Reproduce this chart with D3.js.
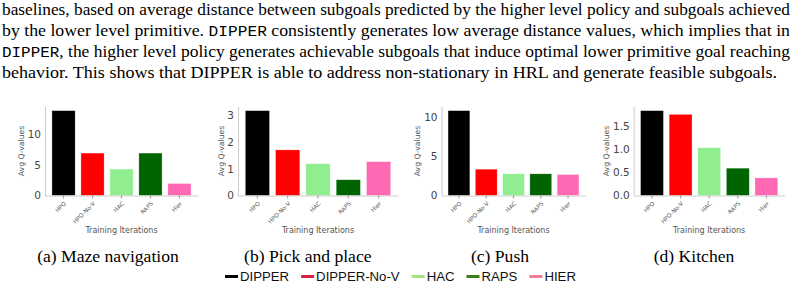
<!DOCTYPE html>
<html><head><meta charset="utf-8">
<script src="https://cdn.jsdelivr.net/npm/d3@7"></script>
<style>body{margin:0;background:#fff;} svg{display:block;}</style>
</head><body>
<svg id="c" width="804" height="288"></svg>
<script>
// ---------- data ----------
const methods = ["HPO", "HPO-No-V", "HAC", "RAPS", "Hier"];
const legendLabels = ["DIPPER", "DIPPER-No-V", "HAC", "RAPS", "HIER"];
const barColors = ["#000000", "#ff0000", "#90ee90", "#006400", "#ff69b4"];
const legendColors = ["#000000", "#dc1e46", "#a6e27c", "#3b7d12", "#f27d98"];

const mazeValues    = [13.8, 6.9, 4.3, 6.9, 1.95];
const pickValues    = [3.18, 1.71, 1.19, 0.59, 1.27];
const pushValues    = [10.8, 3.35, 2.76, 2.76, 2.67];
const kitchenValues = [1.83, 1.75, 1.03, 0.59, 0.38];

const mazeTicks    = [0, 5, 10];
const pickTicks    = [0, 1, 2, 3];
const pushTicks    = [0, 5, 10];
const kitchenTicks = [0, 0.5, 1.0, 1.5];

const captions = ["(a) Maze navigation", "(b) Pick and place", "(c) Push", "(d) Kitchen"];
const yLabel = "Avg Q-values";
const xLabel = "Training Iterations";

const paragraph = [
  [["baselines, based on average distance between subgoals predicted by the higher level policy and subgoals achieved", 0]],
  [["by the lower level primitive. ", 0], ["DIPPER", 1], [" consistently generates low average distance values, which implies that in", 0]],
  [["DIPPER", 1], [", the higher level policy generates achievable subgoals that induce optimal lower primitive goal reaching", 0]],
  [["behavior. This shows that DIPPER is able to address non-stationary in HRL and generate feasible subgoals.", 0]]
];

// ---------- layout ----------
const svg = d3.select("#c");
const serif = "'Liberation Serif','Times New Roman',Times,serif";
const mono = "'Liberation Mono','DejaVu Sans Mono',monospace";
const sans = "'DejaVu Sans',sans-serif";

const lineWidths = [788, 788, 788, 775];
paragraph.forEach((segs, i) => {
  const t = svg.append("text")
    .attr("x", 2).attr("y", 15 + i * 21)
    .attr("font-family", serif).attr("font-size", 17).attr("fill", "#000");
  segs.forEach(s => {
    const ts = t.append("tspan").text(s[0]);
    if (s[1]) ts.attr("font-family", mono).attr("font-size", 15.5);
  });
  t.attr("textLength", lineWidths[i]).attr("lengthAdjust", "spacingAndGlyphs");
});

const panels = [
  { values: mazeValues, ticks: mazeTicks, fmt: d3.format("d"), left: 45, width: 153 },
  { values: pickValues, ticks: pickTicks, fmt: d3.format("d"), left: 238, width: 160 },
  { values: pushValues, ticks: pushTicks, fmt: d3.format("d"), left: 441.5, width: 144 },
  { values: kitchenValues, ticks: kitchenTicks, fmt: d3.format(".1f"), left: 633.7, width: 151 }
];
const plotTop = 106.4, plotBottom = 195.5;

panels.forEach((p, pi) => {
  const g = svg.append("g");
  const x = d3.scaleBand().domain(methods).range([p.left, p.left + p.width])
    .paddingInner(0.2).paddingOuter(0.24);
  const y = d3.scaleLinear().domain([0, d3.max(p.values) * 1.05]).range([plotBottom, plotTop]);

  g.selectAll("rect").data(p.values).join("rect")
    .attr("x", (d, i) => x(methods[i]))
    .attr("y", d => y(d))
    .attr("width", x.bandwidth())
    .attr("height", d => plotBottom - y(d))
    .attr("fill", (d, i) => barColors[i])
    .attr("stroke", "#ffffff").attr("stroke-width", 0.5).attr("stroke-opacity", 0.6);

  const ya = g.append("g").attr("transform", `translate(${p.left},0)`)
    .call(d3.axisLeft(y).tickValues(p.ticks).tickFormat(p.fmt).tickSize(0).tickSizeOuter(0).tickPadding(4));
  ya.select(".domain").attr("stroke", "#cccccc");
  ya.selectAll("text").attr("font-family", sans).attr("font-size", 10.5).attr("fill", "#444");

  const xa = g.append("g").attr("transform", `translate(0,${plotBottom})`)
    .call(d3.axisBottom(x).tickSize(3).tickSizeOuter(0));
  xa.select(".domain").attr("stroke", "#cccccc");
  xa.selectAll(".tick line").attr("stroke", "#999");
  xa.selectAll("text")
    .attr("x", 0).attr("y", 0).attr("dy", 0)
    .attr("text-anchor", "end")
    .attr("transform", "translate(3,8.5) rotate(-45)")
    .attr("font-family", sans).attr("font-size", 5.8).attr("fill", "#555");

  // y label placed left of tick labels
  const tb = ya.node().getBBox();
  const tickLeft = p.left + tb.x;
  const ylx = tickLeft - 3.7;
  const ymid = (plotTop + plotBottom) / 2;
  g.append("text")
    .attr("transform", `translate(${ylx},${ymid}) rotate(-90)`)
    .attr("text-anchor", "middle")
    .attr("font-family", sans).attr("font-size", 7.7).attr("fill", "#555")
    .text(yLabel);

  g.append("text")
    .attr("x", p.left + p.width / 2).attr("y", 233)
    .attr("text-anchor", "middle")
    .attr("font-family", sans).attr("font-size", 8).attr("fill", "#555")
    .text(xLabel);

  const capCenter = (ylx - 6 + p.left + p.width) / 2;
  svg.append("text")
    .attr("x", capCenter).attr("y", 262)
    .attr("text-anchor", "middle")
    .attr("font-family", serif).attr("font-size", 17.6).attr("fill", "#000")
    .text(captions[pi]);
});

// legend
const lg = svg.append("g");
let cx = 225;
legendLabels.forEach((lab, i) => {
  lg.append("line").attr("x1", cx).attr("x2", cx + 13)
    .attr("y1", 276.5).attr("y2", 276.5)
    .attr("stroke", legendColors[i]).attr("stroke-width", 3);
  const t = lg.append("text").attr("x", cx + 15).attr("y", 281.2)
    .attr("font-family", "'Liberation Sans',Arial,sans-serif").attr("font-size", 13.2)
    .attr("fill", "#111").text(lab);
  cx = cx + 15 + t.node().getComputedTextLength() + 12;
});
</script>
</body></html>
